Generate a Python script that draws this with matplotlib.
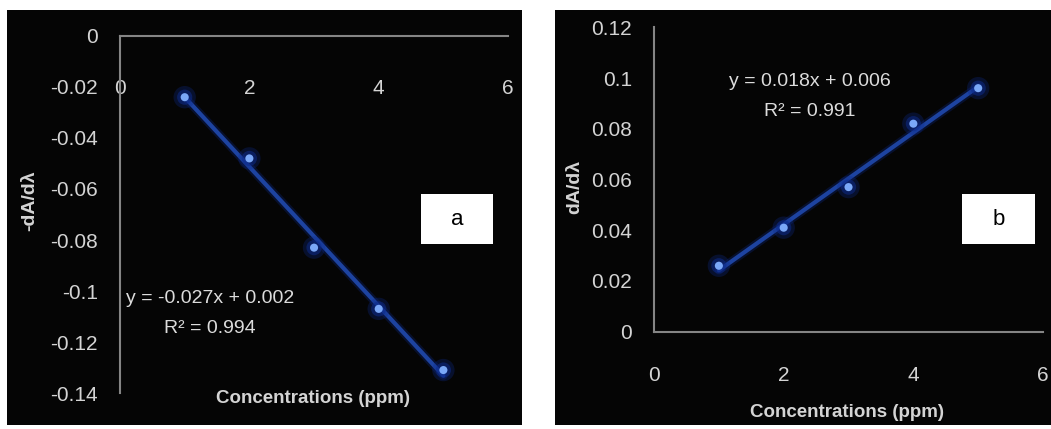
import numpy as np
import matplotlib
matplotlib.use('Agg')
import matplotlib.pyplot as plt
from matplotlib.patches import Rectangle

# data
conc = [1, 2, 3, 4, 5]
deriv_a = [-0.024, -0.048, -0.083, -0.107, -0.131]
deriv_b = [0.026, 0.041, 0.057, 0.082, 0.096]

xticks = [0, 2, 4, 6]
xtick_labels = ['0', '2', '4', '6']
yticks_a = [0, -0.02, -0.04, -0.06, -0.08, -0.1, -0.12, -0.14]
ytick_labels_a = ['0', '-0.02', '-0.04', '-0.06', '-0.08', '-0.1', '-0.12', '-0.14']
yticks_b = [0, 0.02, 0.04, 0.06, 0.08, 0.1, 0.12]
ytick_labels_b = ['0', '0.02', '0.04', '0.06', '0.08', '0.1', '0.12']

eq_a = 'y = -0.027x + 0.002\nR² = 0.994'
eq_b = 'y = 0.018x + 0.006\nR² = 0.991'

fam = ['Liberation Sans', 'DejaVu Sans']
plt.rcParams['font.family'] = fam
tick_col = '#d4d4d4'
spine_col = '#858585'
line_col = '#1d43a0'
dot_col = '#7aa8f8'
glow_col = '#0d2a8a'

fig = plt.figure(figsize=(10.51, 4.29), dpi=100)
fig.patch.set_facecolor('white')

# black panels behind each chart
fig.patches.append(Rectangle((0.0067, 0.0093), 0.49, 0.9674, transform=fig.transFigure,
                             facecolor='#050505', edgecolor='none', zorder=-10))
fig.patches.append(Rectangle((0.528, 0.0093), 0.472, 0.9674, transform=fig.transFigure,
                             facecolor='#050505', edgecolor='none', zorder=-10))

ax1 = fig.add_axes([0.1142, 0.0839, 0.3692, 0.8322])
ax2 = fig.add_axes([0.6223, 0.2268, 0.3701, 0.7096])


def draw_series(ax, x, y):
    slope, icpt = np.polyfit(x, y, 1)
    xf = np.array([x[0], x[-1]])
    ax.plot(xf, slope * xf + icpt, color=glow_col, lw=6, alpha=0.3, solid_capstyle='round', zorder=2)
    ax.plot(xf, slope * xf + icpt, color=line_col, lw=3.0, solid_capstyle='round', zorder=3)
    ax.scatter(x, y, s=260, color=glow_col, alpha=0.3, edgecolors='none', zorder=4)
    ax.scatter(x, y, s=120, color=glow_col, alpha=0.55, edgecolors='none', zorder=4)
    ax.scatter(x, y, s=34, color=dot_col, edgecolors='none', zorder=5)


for ax in (ax1, ax2):
    ax.set_facecolor('none')
    ax.set_xlim(0, 6)
    ax.set_xticks(xticks)
    ax.set_xticklabels(xtick_labels)
    for s in ax.spines.values():
        s.set_visible(False)
        s.set_color(spine_col)
        s.set_linewidth(1.5)
    ax.spines['left'].set_visible(True)
    ax.tick_params(length=0, colors=tick_col, labelsize=15)
    ax.tick_params(axis='y', pad=16)

# panel a
draw_series(ax1, conc, deriv_a)
ax1.set_ylim(-0.14, 0)
ax1.set_yticks(yticks_a)
ax1.set_yticklabels(ytick_labels_a)
ax1.spines['top'].set_visible(True)
ax1.xaxis.set_ticks_position('top')
ax1.tick_params(axis='x', labeltop=True, labelbottom=False, pad=-45)
ax1.set_xlabel('Concentrations (ppm)', fontsize=13.5, fontweight='bold', color=tick_col)
ax1.xaxis.set_label_position('bottom')
ax1.xaxis.set_label_coords(0.497, -0.014)
ax1.xaxis.label.set_va('center')
ax1.set_ylabel('-dA/dλ', fontsize=14, fontweight='bold', color=tick_col)
ax1.yaxis.set_label_coords(-0.232, 0.54)
ax1.yaxis.label.set_va('center')
ax1.text(0.232, 0.223, eq_a, transform=ax1.transAxes, ha='center', va='center', multialignment='center',
         fontsize=14, color='#dcdcdc', linespacing=2.05)
ax1.add_patch(Rectangle((0.776, 0.417), 0.185, 0.14, transform=ax1.transAxes,
                        facecolor='white', edgecolor='none', zorder=6))
ax1.text(0.8685, 0.487, 'a', transform=ax1.transAxes, ha='center', va='center', fontsize=16,
         color='black', zorder=7)

# panel b
draw_series(ax2, conc, deriv_b)
ax2.set_ylim(0, 0.12)
ax2.set_yticks(yticks_b)
ax2.set_yticklabels(ytick_labels_b)
ax2.spines['bottom'].set_visible(True)
ax2.tick_params(axis='x', pad=25)
ax2.set_xlabel('Concentrations (ppm)', fontsize=13.5, fontweight='bold', color=tick_col)
ax2.xaxis.set_label_coords(0.496, -0.267)
ax2.xaxis.label.set_va('center')
ax2.set_ylabel('dA/dλ', fontsize=14, fontweight='bold', color=tick_col)
ax2.yaxis.set_label_coords(-0.203, 0.475)
ax2.yaxis.label.set_va('center')
ax2.text(0.401, 0.773, eq_b, transform=ax2.transAxes, ha='center', va='center', multialignment='center',
         fontsize=14, color='#dcdcdc', linespacing=2.05)
ax2.add_patch(Rectangle((0.792, 0.288), 0.187, 0.164, transform=ax2.transAxes,
                        facecolor='white', edgecolor='none', zorder=6))
ax2.text(0.8855, 0.370, 'b', transform=ax2.transAxes, ha='center', va='center', fontsize=16,
         color='black', zorder=7)

fig.savefig('out.png', dpi=100, facecolor=fig.get_facecolor())
